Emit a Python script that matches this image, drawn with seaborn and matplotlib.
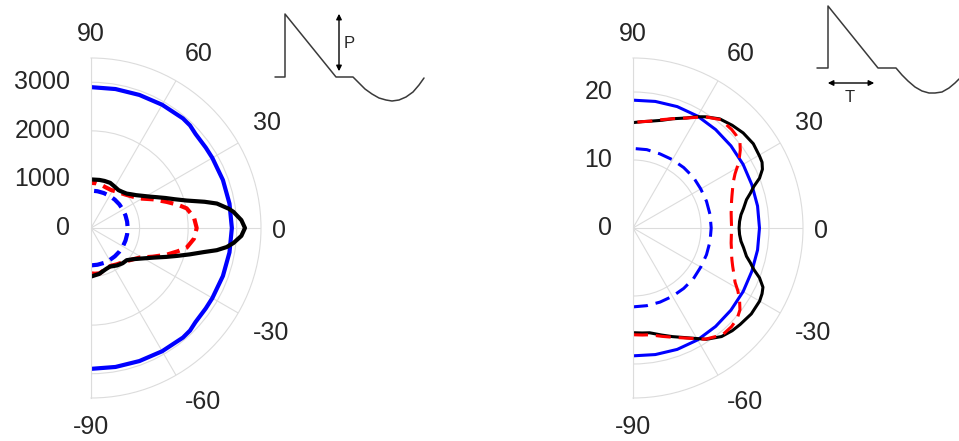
import numpy as np
import pandas as pd
import matplotlib
matplotlib.use("Agg")
import matplotlib.pyplot as plt
import seaborn as sns

sns.set_theme(style="white")
plt.rcParams['font.family'] = ['Liberation Sans', 'DejaVu Sans']

TXT = '#262626'
GRID = '#dcdcdc'

# ---------------- data (degrees, radius) ----------------
# Left panel (P)
L_blue_solid_th = [-90, -80, -70, -60, -50, -46, -42, -35, -30, -20, -10, 0,
                   10, 20, 30, 35, 42, 46, 50, 60, 70, 80, 90]
L_blue_solid_r = [2900, 2905, 2915, 2930, 2945, 2935, 2895, 2885, 2885, 2890, 2895, 2900,
                  2895, 2890, 2885, 2885, 2895, 2935, 2945, 2930, 2915, 2905, 2900]

L_blue_dash_th = [-90, -80, -70, -60, -50, -40, -30, -20, -10, 0, 10, 20, 30, 40, 50, 60, 70, 80, 90]
L_blue_dash_r = [770, 768, 766, 764, 762, 760, 758, 756, 755, 755, 755, 756, 758, 760, 762, 764, 766, 768, 770]

L_black_th = [-90, -80, -70, -64, -55, -48, -42, -36, -30, -25, -21, -18, -15, -12, -10, -8, -6, -3, 0,
              3, 6.5, 8, 11, 13, 16, 19, 22, 25, 28, 32, 36, 40, 44, 49, 54, 60, 67, 74, 80, 90]
L_black_r = [1000, 960, 900, 885, 940, 975, 990, 1090, 1250, 1440, 1660, 1860, 2100, 2380, 2630, 2820, 2950, 3100, 3170,
             3100, 2950, 2860, 2640, 2400, 2050, 1820, 1650, 1500, 1375, 1250, 1150, 1080, 1020, 985, 963, 980, 1010, 1008, 1005, 1000]

L_red_th = [-90, -85, -79, -70, -62, -55, -45, -38, -31, -25, -19.4, -15, -11.6, -6, 0,
            6, 11.6, 15, 19, 25, 31, 38, 45, 55, 62, 70, 76, 83, 90]
L_red_r = [935, 945, 951, 890, 880, 916, 980, 1060, 1180, 1400, 1653, 1850, 2011, 2130, 2176,
           2130, 2011, 1850, 1650, 1400, 1180, 1060, 980, 916, 885, 890, 910, 927, 930]

# Right panel (T)
R_blue_solid_th = [-90, -80, -70, -60, -50, -40, -30, -20, -10, 0, 10, 20, 30, 40, 50, 60, 70, 80, 90]
R_blue_solid_r = [18.8, 18.9, 19.0, 19.0, 18.9, 18.8, 18.7, 18.6, 18.6, 18.6,
                  18.6, 18.6, 18.7, 18.8, 18.9, 19.0, 19.0, 18.9, 18.8]

R_blue_dash_th = [-90, -80, -70, -60, -50, -40, -30, -20, -10, 0, 10, 20, 30, 40, 50, 60, 70, 80, 90]
R_blue_dash_r = [11.6, 11.6, 11.6, 11.6, 11.6, 11.6, 11.5, 11.5, 11.5, 11.5,
                 11.5, 11.5, 11.5, 11.6, 11.6, 11.6, 11.6, 11.7, 11.7]

R_black_th = [-90, -85, -81, -75, -70, -66, -62.7, -56.6, -50.8, -46, -42, -36, -30, -27, -24.5, -21.5, -19, -16.5, -14, -10, -7, -3.5, 0,
              3.5, 7, 10, 14, 16.5, 19, 21.5, 24.4, 27, 29.5, 35, 40.8, 46, 51.5, 57, 60.5, 64, 70, 75, 81, 85, 90]
R_black_r = [15.4, 15.5, 15.6, 16.3, 17.0, 17.6, 18.2, 19.6, 20.6, 21.0, 21.2, 21.5, 21.5, 21.3, 21.0, 20.0, 18.8, 18.0, 17.2, 16.5, 16.0, 15.7, 15.6,
             15.7, 16.0, 16.5, 17.2, 18.0, 18.8, 20.0, 20.9, 21.3, 21.4, 21.6, 21.4, 21.0, 20.5, 19.5, 18.8, 18.0, 17.1, 16.4, 15.9, 15.7, 15.5]

R_red_th = [-90, -85, -81, -75, -70, -63, -57, -50, -45, -41, -37.4, -34, -31, -28, -24.5, -21, -18, -15, -12, -8.7, -4, 0,
            4, 8.7, 12, 15, 18, 22.6, 25, 28, 31, 34, 36, 38.5, 42, 45, 51, 57, 64, 70, 75, 81, 85, 90]
R_red_r = [15.7, 15.8, 15.9, 16.5, 17.1, 18.2, 19.5, 20.5, 20.5, 20.3, 19.8, 18.9, 18.0, 17.0, 16.3, 15.7, 15.3, 15.0, 14.8, 14.6, 14.5, 14.5,
           14.5, 14.6, 14.8, 15.0, 15.3, 15.9, 16.3, 17.0, 18.0, 18.9, 19.5, 20.1, 20.4, 20.5, 20.5, 19.5, 18.0, 17.1, 16.5, 15.9, 15.7, 15.5]

theta_ticks = [-90, -60, -30, 0, 30, 60, 90]
theta_labels = ['-90', '-60', '-30', '0', '30', '60', '90']
L_rticks = [0, 1000, 2000, 3000]
L_rlabels = ['0', '1000', '2000', '3000']
R_rticks = [0, 10, 20]
R_rlabels = ['0', '10', '20']

# waveform sketches (local pixel-like units)
waveP_x = [0, 10, 10, 61, 78, 84, 90, 97, 104, 111, 117, 124, 131, 138, 144, 149]
waveP_y = [0, 0, 63, 0, 0, -6, -12, -17, -21, -23, -24, -23, -20, -15, -8, -1]
waveT_x = [0, 11, 11, 61, 79, 85, 91, 98, 105, 112, 118, 125, 132, 138, 142]
waveT_y = [0, 0, 62, 0, 0, -7, -13, -19, -23, -25, -25, -24, -20, -15, -11]

W, H = 959, 441
FS = 18
fig = plt.figure(figsize=(W / 100, H / 100), dpi=100)


def draw_polar(cx, cy, R, rmax, rticks, rlabels, curves, lw, dash):
    ax = fig.add_axes([(cx - R / 2) / W, (H - cy - R) / H, 2 * R / W, 2 * R / H], projection='polar')
    ax.set_thetamin(-90)
    ax.set_thetamax(90)
    for th, r, col, ls in curves:
        df = pd.DataFrame({'theta': np.deg2rad(th), 'r': r})
        sns.lineplot(data=df, x='theta', y='r', ax=ax, color=col, linewidth=lw,
                     sort=False, estimator=None,
                     linestyle=(0, dash) if ls == 'dash' else '-')
    ax.set_xlabel('')
    ax.set_ylabel('')
    ax.set_ylim(0, rmax)
    ax.set_thetagrids(theta_ticks, labels=[''] * len(theta_ticks))
    ax.set_rgrids(rticks, labels=rlabels)
    ax.grid(True, color=GRID, linewidth=0.8)
    for s in ax.spines.values():
        s.set_color(GRID)
        s.set_linewidth(0.8)
    ax.tick_params(axis='y', labelsize=FS, colors=TXT, labelleft=False, labelright=True,
                   left=False, right=False, pad=9)
    # angle labels, MATLAB-style anchoring just outside the rim
    for t, lab in zip(theta_ticks, theta_labels):
        rf = 1.1
        if t == 90:
            ha, va = 'center', 'baseline'
        elif t == -90:
            ha, va = 'center', 'top'
        elif t == 0:
            ha, va, rf = 'left', 'center_baseline', 1.065
        elif t > 0:
            ha, va = 'left', 'bottom'
        else:
            ha, va = 'left', 'top'
        ax.text(np.deg2rad(t), rf * rmax, lab, ha=ha, va=va, fontsize=FS,
                color=TXT, clip_on=False)
    return ax


axL = draw_polar(91, 228, 170, 3500, L_rticks, L_rlabels,
                 [(L_blue_solid_th, L_blue_solid_r, 'blue', '-'),
                  (L_blue_dash_th, L_blue_dash_r, 'blue', 'dash'),
                  (L_red_th, L_red_r, 'red', 'dash'),
                  (L_black_th, L_black_r, 'black', '-')],
                 lw=3.0, dash=(3.1, 1.7))

axR = draw_polar(633, 228, 170, 25, R_rticks, R_rlabels,
                 [(R_blue_solid_th, R_blue_solid_r, 'blue', '-'),
                  (R_blue_dash_th, R_blue_dash_r, 'blue', 'dash'),
                  (R_black_th, R_black_r, 'black', '-'),
                  (R_red_th, R_red_r, 'red', 'dash')],
                 lw=2.2, dash=(4.9, 2.6))

# waveform insets
WAVE = '#3a3a3a'
axP = fig.add_axes([270 / W, (H - 110) / H, 170 / W, 105 / H])
axP.plot(waveP_x, waveP_y, color=WAVE, lw=1.1)
axP.set_xlim(-5, 165)
axP.set_ylim(-33, 72)
axP.annotate('', xy=(64, 66), xytext=(64, 3),
             arrowprops=dict(arrowstyle='<|-|>', color='black', lw=1.0, mutation_scale=8))
axP.text(74, 33, 'P', fontsize=12, color=TXT, ha='center', va='center')
axP.axis('off')

axT = fig.add_axes([812 / W, (H - 110) / H, 147 / W, 110 / H])
axT.plot(waveT_x, waveT_y, color=WAVE, lw=1.1)
axT.set_xlim(-5, 142)
axT.set_ylim(-42, 68)
axT.annotate('', xy=(8, -15), xytext=(60, -15),
             arrowprops=dict(arrowstyle='<|-|>', color='black', lw=1.0, mutation_scale=8))
axT.text(33, -30, 'T', fontsize=12, color=TXT, ha='center', va='center')
axT.axis('off')

fig.savefig('out.png', dpi=100)
